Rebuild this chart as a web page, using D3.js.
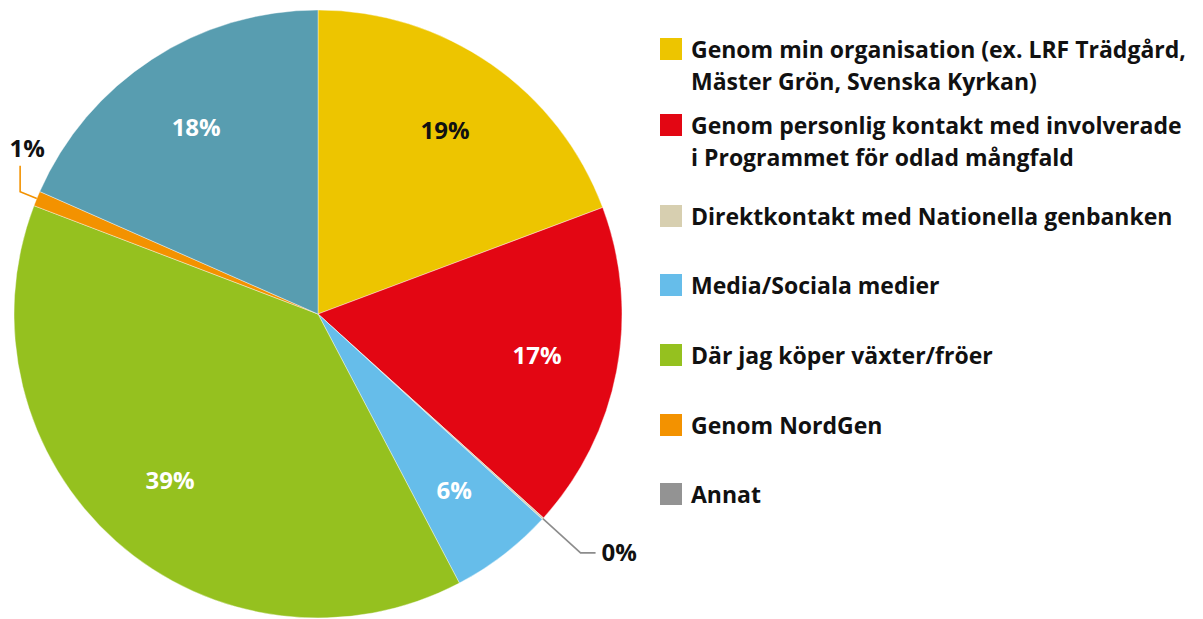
<!DOCTYPE html>
<html>
<head>
<meta charset="utf-8">
<script src="https://cdn.jsdelivr.net/npm/d3@7"></script>
<style>
  html, body { margin: 0; padding: 0; background: #fff; }
  svg { display: block; }
  text { font-family: "Open Sans", Lato, sans-serif; font-weight: 700; }
</style>
</head>
<body>
<svg id="chart" width="1203" height="619"></svg>
<script>
// ---- data ----
const categories = [
  ["Genom min organisation (ex. LRF Trädgård,", "Mäster Grön, Svenska Kyrkan)"],
  ["Genom personlig kontakt med involverade", "i Programmet för odlad mångfald"],
  ["Direktkontakt med Nationella genbanken"],
  ["Media/Sociala medier"],
  ["Där jag köper växter/fröer"],
  ["Genom NordGen"],
  ["Annat"]
];
const values = [19.3, 17.4, 0.1, 5.5, 38.5, 0.8, 18.4];
const labels = ["19%", "17%", "0%", "6%", "39%", "1%", "18%"];
const sliceColors  = ["#edc500", "#e30613", "#d7cfb0", "#66bdea", "#95c11f", "#f39200", "#589db0"];
const legendColors = ["#edc500", "#e30613", "#d7cfb0", "#66bdea", "#95c11f", "#f39200", "#939393"];
const labelColors  = ["#111", "#fff", "#111", "#fff", "#fff", "#111", "#fff"];

// ---- layout ----
const svg = d3.select("#chart");
const cx = 318, cy = 314, R = 304;
const g = svg.append("g").attr("transform", `translate(${cx},${cy})`);

const pie = d3.pie().sort(null).value(d => d)(values);
const arc = d3.arc().innerRadius(0).outerRadius(R);
const labelArc = d3.arc().innerRadius(223).outerRadius(223);

g.selectAll("path.slice")
  .data(pie)
  .join("path")
  .attr("class", "slice")
  .attr("d", arc)
  .attr("fill", (d, i) => sliceColors[i])
  .attr("stroke", "#fff")
  .attr("stroke-width", 0.4);

const pt = (a, r) => [r * Math.sin(a), -r * Math.cos(a)];

pie.forEach((d, i) => {
  const mid = (d.startAngle + d.endAngle) / 2;
  if (i === 2) {
    const p0 = pt(mid, R), p1 = pt(mid, R + 51);
    const p2 = [p1[0] + 15, p1[1]];
    g.append("polyline")
      .attr("points", [p0, p1, p2].map(p => p.join(",")).join(" "))
      .attr("fill", "none").attr("stroke", "#8c8c8c").attr("stroke-width", 1.6);
    g.append("text").attr("x", p2[0] + 6).attr("y", p2[1])
      .attr("dy", "0.35em").attr("font-size", 24).attr("fill", labelColors[i])
      .text(labels[i]);
  } else if (i === 5) {
    const p0 = pt(mid, R), p1 = pt(mid, R + 18);
    const p2 = [p1[0], p1[1] - 26];
    g.append("polyline")
      .attr("points", [p0, p1, p2].map(p => p.join(",")).join(" "))
      .attr("fill", "none").attr("stroke", sliceColors[i]).attr("stroke-width", 1.6);
    g.append("text").attr("x", p2[0] + 7).attr("y", p2[1] - 9)
      .attr("text-anchor", "middle").attr("font-size", 24).attr("fill", labelColors[i])
      .text(labels[i]);
  } else {
    const c = labelArc.centroid(d);
    g.append("text").attr("x", c[0]).attr("y", c[1])
      .attr("text-anchor", "middle").attr("dy", "0.35em")
      .attr("font-size", 24).attr("fill", labelColors[i])
      .text(labels[i]);
  }
});

// ---- legend ----
const legendTops = [38, 114, 205, 274, 344, 414, 483];
const legend = svg.append("g");
categories.forEach((lines, i) => {
  const y = legendTops[i];
  legend.append("rect").attr("x", 660).attr("y", y).attr("width", 22).attr("height", 22)
    .attr("fill", legendColors[i]);
  const t = legend.append("text").attr("x", 691).attr("y", y + 20)
    .attr("font-size", 23).attr("fill", "#111");
  lines.forEach((ln, j) => {
    t.append("tspan").attr("x", 691).attr("dy", j === 0 ? 0 : 32).text(ln);
  });
});
</script>
</body>
</html>
